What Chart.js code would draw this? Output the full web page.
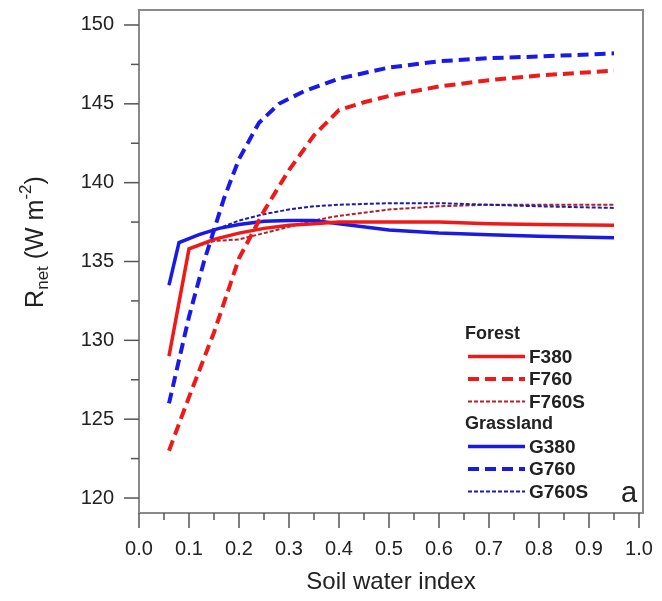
<!DOCTYPE html>
<html>
<head>
<meta charset="utf-8">
<script src="https://cdn.jsdelivr.net/npm/chart.js@4"></script>
<style>
  html, body { margin: 0; padding: 0; background: #fff; }
  #wrap { width: 662px; height: 601px; position: relative; }
</style>
</head>
<body>
<div id="wrap"><canvas id="chart" width="662" height="601"></canvas></div>
<script>
// soil water index (x) and net radiation (y) per run
const swiF380 = [0.06, 0.10, 0.15, 0.20, 0.25, 0.30, 0.35, 0.40, 0.50, 0.60, 0.70, 0.80, 0.95];
const rnetF380 = [129.0, 135.8, 136.4, 136.8, 137.1, 137.3, 137.4, 137.5, 137.5, 137.5, 137.4, 137.35, 137.3];

const swiF760 = [0.06, 0.10, 0.15, 0.20, 0.25, 0.30, 0.35, 0.40, 0.45, 0.50, 0.60, 0.70, 0.80, 0.95];
const rnetF760 = [123.0, 126.4, 130.5, 135.2, 138.2, 140.8, 143.0, 144.6, 145.1, 145.5, 146.1, 146.5, 146.8, 147.1];

const swiF760S = [0.06, 0.10, 0.15, 0.20, 0.25, 0.30, 0.35, 0.40, 0.50, 0.60, 0.70, 0.80, 0.95];
const rnetF760S = [129.0, 135.8, 136.3, 136.4, 136.8, 137.2, 137.6, 137.9, 138.3, 138.5, 138.6, 138.6, 138.6];

const swiG380 = [0.06, 0.08, 0.12, 0.16, 0.20, 0.25, 0.30, 0.35, 0.40, 0.50, 0.60, 0.70, 0.80, 0.95];
const rnetG380 = [133.5, 136.2, 136.7, 137.1, 137.35, 137.55, 137.6, 137.6, 137.4, 137.0, 136.8, 136.7, 136.6, 136.5];

const swiG760 = [0.06, 0.10, 0.13, 0.17, 0.20, 0.24, 0.28, 0.33, 0.40, 0.50, 0.60, 0.70, 0.80, 0.95];
const rnetG760 = [126.0, 131.5, 135.0, 139.0, 141.5, 143.8, 145.0, 145.8, 146.6, 147.3, 147.7, 147.9, 148.0, 148.2];

const swiG760S = [0.06, 0.08, 0.12, 0.16, 0.20, 0.25, 0.30, 0.35, 0.40, 0.50, 0.60, 0.70, 0.80, 0.95];
const rnetG760S = [133.5, 136.2, 136.7, 137.1, 137.6, 138.0, 138.3, 138.5, 138.6, 138.7, 138.7, 138.6, 138.5, 138.4];

const xTicks = [0, 0.1, 0.2, 0.3, 0.4, 0.5, 0.6, 0.7, 0.8, 0.9, 1.0];
const yTicks = [120, 125, 130, 135, 140, 145, 150];

const RED = "#ee1a1a";
const BLUE = "#1a1ae6";
const DARKRED = "#b4202a";
const DARKBLUE = "#1c1ca8";
const FONT = "'Liberation Sans', Arial, sans-serif";

function pts(xs, ys) {
  return xs.map((x, i) => ({ x, y: ys[i] }));
}

function series(label, xs, ys, color, width, dash, order) {
  return {
    label,
    data: pts(xs, ys),
    borderColor: color,
    borderWidth: width,
    borderDash: dash,
    pointRadius: 0,
    tension: 0,
    fill: false,
    order,
  };
}

const datasets = [
  series("F760S", swiF760S, rnetF760S, DARKRED, 2, [4, 2], 6),
  series("G760S", swiG760S, rnetG760S, DARKBLUE, 2, [4, 2], 5),
  series("F380", swiF380, rnetF380, RED, 3.5, [], 3),
  series("G380", swiG380, rnetG380, BLUE, 3.5, [], 4),
  series("F760", swiF760, rnetF760, RED, 4, [11, 6], 2),
  series("G760", swiG760, rnetG760, BLUE, 4, [11, 6], 1),
];

const legendGroups = [
  { title: "Forest", items: ["F380", "F760", "F760S"] },
  { title: "Grassland", items: ["G380", "G760", "G760S"] },
];

function noPad(s) {
  s.paddingLeft = 0;
  s.paddingRight = 0;
  s.paddingTop = 0;
  s.paddingBottom = 0;
}

// box, tick marks, y title, legend and panel letter
const decor = {
  id: "decor",
  afterDraw(chart) {
    const { ctx, chartArea: a, scales } = chart;
    const xs = scales.x, ys = scales.y;
    ctx.save();
    ctx.strokeStyle = "#8a8a8a";
    ctx.lineWidth = 2;
    ctx.strokeRect(a.left, a.top, a.right - a.left, a.bottom - a.top);

    ctx.strokeStyle = "#555";
    ctx.lineWidth = 1.5;
    for (let i = 0; i <= 20; i++) {
      const v = i * 0.05;
      const px = xs.getPixelForValue(v);
      const len = i % 2 === 0 ? 15 : 7;
      ctx.beginPath();
      ctx.moveTo(px, a.bottom);
      ctx.lineTo(px, a.bottom + len);
      ctx.stroke();
    }
    for (let i = 0; i <= 12; i++) {
      const v = 120 + i * 2.5;
      const py = ys.getPixelForValue(v);
      const len = i % 2 === 0 ? 15 : 8;
      ctx.beginPath();
      ctx.moveTo(a.left, py);
      ctx.lineTo(a.left - len, py);
      ctx.stroke();
    }

    // y axis title: R_net (W m^-2)
    ctx.fillStyle = "#222";
    ctx.translate(36, 242);
    ctx.rotate(-Math.PI / 2);
    const big = "25px " + FONT, small = "17px " + FONT;
    const parts = [
      ["R", big, 0],
      ["net", small, 7],
      [" (W m", big, 0],
      ["-2", small, -10],
      [")", big, 0],
    ];
    let w = 0;
    parts.forEach(([t, f]) => { ctx.font = f; w += ctx.measureText(t).width; });
    let cx = -w / 2;
    ctx.textBaseline = "middle";
    ctx.textAlign = "left";
    parts.forEach(([t, f, dy]) => {
      ctx.font = f;
      ctx.fillText(t, cx, dy);
      cx += ctx.measureText(t).width;
    });
    ctx.restore();

    // legend
    ctx.save();
    ctx.textBaseline = "middle";
    ctx.textAlign = "left";
    ctx.fillStyle = "#222";
    let y = 334;
    const step = 22.5;
    legendGroups.forEach((g) => {
      ctx.font = "bold 18px " + FONT;
      ctx.fillText(g.title, 465, y);
      y += step;
      g.items.forEach((name) => {
        const ds = datasets.find((d) => d.label === name);
        ctx.strokeStyle = ds.borderColor;
        ctx.lineWidth = ds.borderWidth;
        ctx.setLineDash(ds.borderDash);
        ctx.beginPath();
        ctx.moveTo(468, y);
        ctx.lineTo(525, y);
        ctx.stroke();
        ctx.setLineDash([]);
        ctx.font = "bold 19px " + FONT;
        ctx.fillText(name, 529, y + 1);
        y += step;
      });
    });
    ctx.font = "29px " + FONT;
    ctx.fillText("a", 621, 494);
    ctx.restore();
  },
};

new Chart(document.getElementById("chart"), {
  type: "line",
  data: { datasets },
  options: {
    responsive: false,
    animation: false,
    layout: { padding: { left: 0, top: 10, right: 19, bottom: 0 } },
    plugins: { legend: { display: false }, tooltip: { enabled: false } },
    scales: {
      x: {
        type: "linear",
        min: 0,
        max: 1.008,
        afterFit: (s) => { s.height = 88; noPad(s); },
        afterBuildTicks: (s) => { s.ticks = xTicks.map((v) => ({ value: v })); },
        grid: { display: false, drawTicks: false },
        border: { display: false },
        ticks: {
          color: "#222",
          padding: 24,
          maxRotation: 0,
          font: { family: FONT, size: 20 },
          callback: (v) => v.toFixed(1),
        },
        title: {
          display: true,
          text: "Soil water index",
          color: "#222",
          font: { family: FONT, size: 24 },
          padding: { top: 0 },
        },
      },
      y: {
        type: "linear",
        min: 119.05,
        max: 150.95,
        afterFit: (s) => { s.width = 139; noPad(s); },
        afterBuildTicks: (s) => { s.ticks = yTicks.map((v) => ({ value: v })); },
        grid: { display: false, drawTicks: false },
        border: { display: false },
        ticks: {
          color: "#222",
          padding: 25,
          font: { family: FONT, size: 20 },
        },
      },
    },
  },
  plugins: [decor],
});
</script>
</body>
</html>
